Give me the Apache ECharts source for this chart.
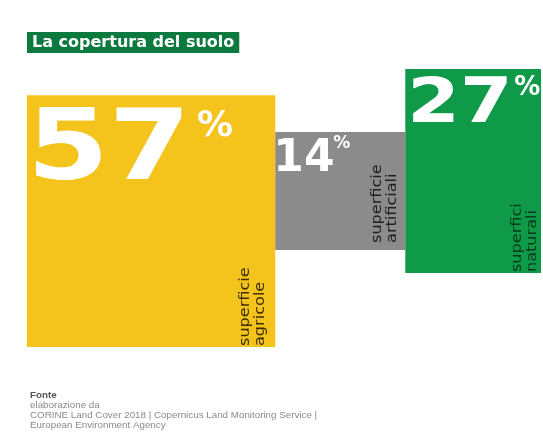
<!DOCTYPE html>
<html>
<head>
<meta charset="utf-8">
<script src="https://cdn.jsdelivr.net/npm/echarts@6/dist/echarts.min.js"></script>
<style>
html,body{margin:0;padding:0;background:#fff;}
#chart{width:543px;height:432px;}
</style>
</head>
<body>
<div id="chart"></div>
<script>
// ---- data ----
const categories = ['superficie\nagricole', 'superficie\nartificiali', 'superfici\nnaturali'];
const shares = [57, 14, 27];               // % of land cover
const boxWidth = [48.3, 25.3, 26.4];        // width of each block (axis units, 0-100)
const boxBottom = [0, 34.9, 26.6];          // lower edge (axis units, 0-100)
const boxTop = [90.6, 77.3, 100];           // upper edge (axis units, 0-100)
const titleText = 'La copertura del suolo';
const sourceLines = ['elaborazione da', 'CORINE Land Cover 2018 | Copernicus Land Monitoring Service |', 'European Environment Agency'];

// ---- styles ----
const fills = ['#f4c31c', '#8b8b8b', '#0e9a48'];
const labelColors = ['#3a2f00', '#1f1f1f', '#083a1a'];
const numStyle = [
  {size: 98, dx: 0, dy: 58, sx: 1.2, pSize: 36, pdx: 170, pdy: 32},
  {size: 44, dx: -2, dy: 27, sx: 1.0, pSize: 17, pdx: 58, pdy: 11},
  {size: 63, dx: 2, dy: 37, sx: 1.2, pSize: 26, pdx: 109, pdy: 19}
];
const labelPad = [{dx: 7, dy: 1}, {dx: 5, dy: 7}, {dx: 1, dy: 1}];

let acc = 0;
const seriesData = shares.map((v, i) => {
  const start = acc;
  acc += boxWidth[i];
  return {value: [start, acc, boxBottom[i], boxTop[i], v], name: categories[i]};
});

const chart = echarts.init(document.getElementById('chart'));
chart.setOption({
  animation: false,
  backgroundColor: '#ffffff',
  title: [
    {
      text: titleText, left: 27, top: 32,
      backgroundColor: '#0c7a3e', padding: [3, 5, 2, 5],
      textStyle: {color: '#ffffff', fontFamily: 'DejaVu Sans', fontWeight: 'bold', fontSize: 16, lineHeight: 16}
    },
    {
      text: '{b|Fonte}\n' + sourceLines.map(s => '{n|' + s + '}').join('\n'),
      left: 30, top: 390, padding: 0,
      textStyle: {
        fontWeight: 'normal',
        rich: {
          b: {fontFamily: 'Liberation Sans', fontSize: 9.8, fontWeight: 'bold', color: '#555', lineHeight: 10},
          n: {fontFamily: 'Liberation Sans', fontSize: 9.8, fontWeight: 'normal', color: '#8a8a8a', lineHeight: 10}
        }
      }
    }
  ],
  grid: {left: 27, right: 2, top: 69, bottom: 85},
  xAxis: {type: 'value', min: 0, max: 100, show: false},
  yAxis: {type: 'value', min: 0, max: 100, show: false},
  series: [{
    type: 'custom',
    clip: false,
    data: seriesData,
    renderItem: function (params, api) {
      const i = params.dataIndex;
      const tl = api.coord([api.value(0), api.value(3)]);
      const br = api.coord([api.value(1), api.value(2)]);
      const ns = numStyle[i];
      const lp = labelPad[i];
      return {
        type: 'group',
        children: [
          {type: 'rect', shape: {x: tl[0], y: tl[1], width: br[0] - tl[0], height: br[1] - tl[1]}, style: {fill: fills[i]}},
          {type: 'text', x: tl[0] + ns.dx, y: tl[1] + ns.dy, scaleX: ns.sx,
            style: {text: String(api.value(4)), fill: '#ffffff', fontFamily: 'DejaVu Sans', fontWeight: 'bold', fontSize: ns.size, align: 'left', verticalAlign: 'middle'}},
          {type: 'text', x: tl[0] + ns.pdx, y: tl[1] + ns.pdy,
            style: {text: '%', fill: '#ffffff', fontFamily: 'DejaVu Sans', fontWeight: 'bold', fontSize: ns.pSize, align: 'left', verticalAlign: 'middle'}},
          {type: 'text', x: br[0] - lp.dx, y: br[1] - lp.dy, rotation: Math.PI / 2, scaleX: 1.15,
            style: {text: categories[i], fill: labelColors[i], fontFamily: 'DejaVu Sans', fontSize: 14, lineHeight: 15, align: 'left', verticalAlign: 'bottom'}}
        ]
      };
    }
  }]
});
</script>
</body>
</html>
